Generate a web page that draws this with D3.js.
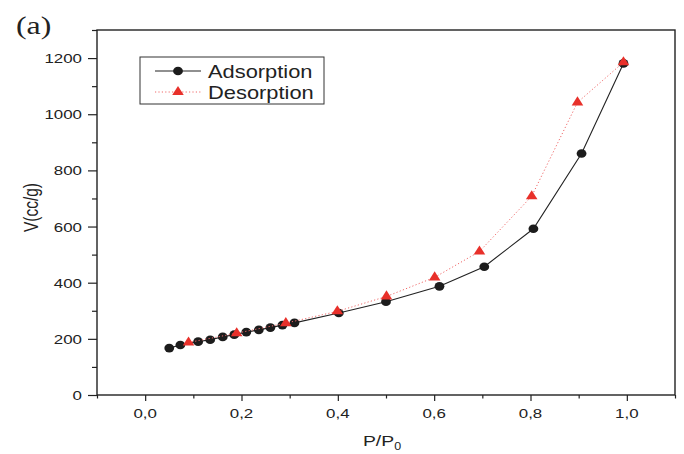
<!DOCTYPE html>
<html>
<head>
<meta charset="utf-8">
<script src="https://cdn.jsdelivr.net/npm/d3@7"></script>
<style>
  html, body { margin: 0; padding: 0; background: #fff; }
  svg { display: block; }
  text { font-family: "Liberation Sans", Arial, sans-serif; fill: #222; }
</style>
</head>
<body>
<svg id="chart" width="684" height="454"></svg>
<script>
// ---- data ----
const adsX = [0.05, 0.073, 0.11, 0.135, 0.161, 0.185, 0.21, 0.236, 0.26, 0.285, 0.31, 0.402, 0.50, 0.611, 0.704, 0.806, 0.906, 0.993];
const adsY = [167, 178, 190, 197, 207, 215, 224, 232, 240, 249, 257, 292, 332, 387, 457, 592, 860, 1181];
const desX = [0.09, 0.19, 0.292, 0.399, 0.501, 0.601, 0.694, 0.8025, 0.8975, 0.993];
const desY = [187, 220, 256, 298, 351, 419, 511, 708, 1042, 1185];
const xMajorTicks = [0, 0.2, 0.4, 0.6, 0.8, 1.0];
const xMinorTicks = [-0.1, 0.1, 0.3, 0.5, 0.7, 0.9, 1.1];
const yMajorTicks = [0, 200, 400, 600, 800, 1000, 1200];
const yMinorTicks = [100, 300, 500, 700, 900, 1100, 1300];
const seriesNames = ["Adsorption", "Desorption"];
const xTitle = "P/P";
const xTitleSub = "0";
const yTitle = "V(cc/g)";
const panelLabel = "(a)";

const SX = 1.25; // horizontal stretch of text in reference

const svg = d3.select("#chart");
const L = 97, R = 675, T = 30, B = 395;
const x = d3.scaleLinear().domain([-0.1, 1.1]).range([L, R]);
const y = d3.scaleLinear().domain([0, 1300]).range([B, T]);

const fmt = d => d3.format(".1f")(d).replace(".", ",");

function stext(g, tx, ty, str, size, anchor, family) {
  const t = g.append("text")
    .attr("transform", `translate(${tx},${ty}) scale(${SX},1)`)
    .attr("font-size", size)
    .attr("text-anchor", anchor || "start")
    .text(str);
  if (family) t.style("font-family", family);
  return t;
}

const xAxisMajor = d3.axisBottom(x).tickValues(xMajorTicks).tickSize(6).tickFormat("");
const xAxisMinor = d3.axisBottom(x).tickValues(xMinorTicks).tickSize(3.5).tickFormat("");
const yAxisMajor = d3.axisLeft(y).tickValues(yMajorTicks).tickSize(9).tickFormat("");
const yAxisMinor = d3.axisLeft(y).tickValues(yMinorTicks).tickSize(5).tickFormat("");

function styleAxis(g) {
  g.select(".domain").remove();
  g.selectAll(".tick line").attr("stroke", "#222").attr("stroke-width", 1.2);
}
svg.append("g").attr("transform", `translate(0,${B})`).call(xAxisMajor).call(styleAxis);
svg.append("g").attr("transform", `translate(0,${B})`).call(xAxisMinor).call(styleAxis);
svg.append("g").attr("transform", `translate(${L},0)`).call(yAxisMajor).call(styleAxis);
svg.append("g").attr("transform", `translate(${L},0)`).call(yAxisMinor).call(styleAxis);

const lab = svg.append("g");
xMajorTicks.forEach(v => stext(lab, x(v), B + 23, fmt(v), 13.5, "middle"));
yMajorTicks.forEach(v => stext(lab, L - 15, y(v) + 5, String(v), 13.5, "end"));

svg.append("rect").attr("x", L).attr("y", T).attr("width", R - L).attr("height", B - T)
  .attr("fill", "none").attr("stroke", "#222").attr("stroke-width", 1.4);

const xt = stext(svg, (L + R) / 2 - 4, 446, "", 15.5, "middle");
xt.append("tspan").text(xTitle);
xt.append("tspan").attr("font-size", 10).attr("dy", 4).text(xTitleSub);
svg.append("text")
  .attr("transform", `translate(38,${(T + B) / 2 - 5}) rotate(-90) scale(1,${SX})`)
  .attr("font-size", 15.5).attr("text-anchor", "middle").text(yTitle);
stext(svg, 16, 34, panelLabel, 25.5, "start", "'Liberation Serif', 'Times New Roman', serif");

const ads = adsX.map((v, i) => [v, adsY[i]]);
const des = desX.map((v, i) => [v, desY[i]]);
const line = d3.line().x(d => x(d[0])).y(d => y(d[1]));

svg.append("path").datum(ads).attr("d", line).attr("fill", "none")
  .attr("stroke", "#222").attr("stroke-width", 1.1);
svg.append("g").selectAll("ellipse").data(ads).join("ellipse")
  .attr("cx", d => x(d[0])).attr("cy", d => y(d[1]))
  .attr("rx", 4.9).attr("ry", 4.3).attr("fill", "#1c1c1c");

svg.append("path").datum(des).attr("d", line).attr("fill", "none")
  .attr("stroke", "#f06a6a").attr("stroke-width", 1).attr("stroke-dasharray", "1.2,2.2");
const tri = d3.symbol().type(d3.symbolTriangle).size(48);
svg.append("g").selectAll("path").data(des).join("path")
  .attr("d", tri).attr("transform", d => `translate(${x(d[0])},${y(d[1])}) scale(1.1,1)`)
  .attr("fill", "#e8302a");

const lg = svg.append("g");
lg.append("rect").attr("x", 140).attr("y", 57).attr("width", 184).attr("height", 47)
  .attr("fill", "#fff").attr("stroke", "#333").attr("stroke-width", 1);
lg.append("line").attr("x1", 155).attr("x2", 201).attr("y1", 71).attr("y2", 71)
  .attr("stroke", "#222").attr("stroke-width", 1.1);
lg.append("ellipse").attr("cx", 178).attr("cy", 71).attr("rx", 4.9).attr("ry", 4.3).attr("fill", "#1c1c1c");
lg.append("line").attr("x1", 155).attr("x2", 201).attr("y1", 92).attr("y2", 92)
  .attr("stroke", "#f06a6a").attr("stroke-width", 1).attr("stroke-dasharray", "1.2,2.2");
lg.append("path").attr("d", tri).attr("transform", "translate(178,92) scale(1.1,1)").attr("fill", "#e8302a");
stext(lg, 208, 77.5, seriesNames[0], 17.5, "start");
stext(lg, 208, 98.5, seriesNames[1], 17.5, "start");
</script>
</body>
</html>
